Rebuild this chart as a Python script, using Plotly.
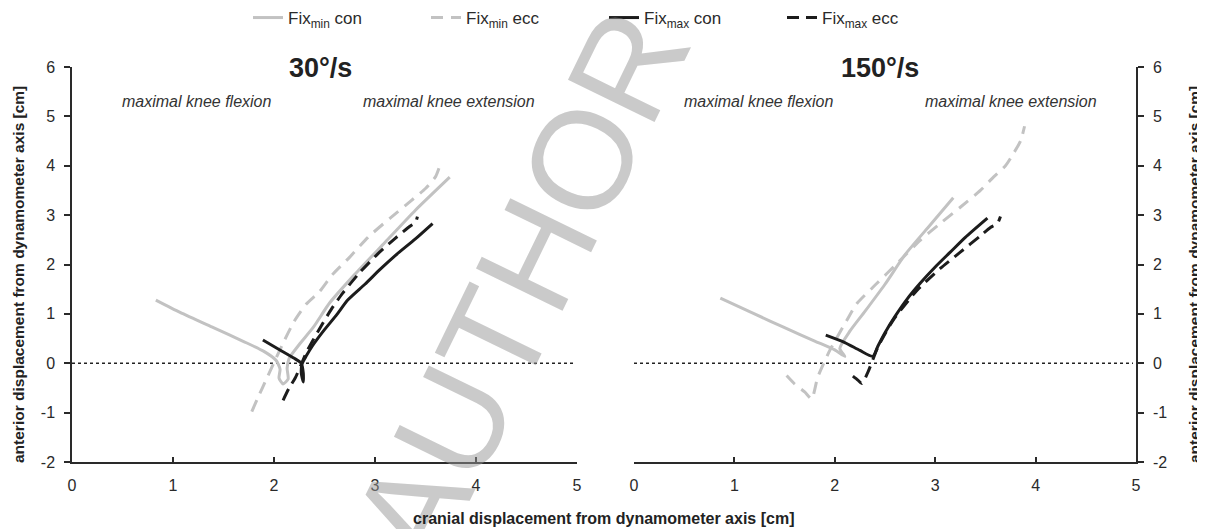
import plotly.graph_objects as go

# ---------------- data ----------------
series_names = ["Fix<sub>min</sub> con", "Fix<sub>min</sub> ecc", "Fix<sub>max</sub> con", "Fix<sub>max</sub> ecc"]
panel_titles = ["30°/s", "150°/s"]
x_ticks = [0, 1, 2, 3, 4, 5]
x_ticktext = ["0", "1", "2", "3", "4", "5"]
y_ticks = [-2, -1, 0, 1, 2, 3, 4, 5, 6]
y_ticktext = ["-2", "-1", "0", "1", "2", "3", "4", "5", "6"]

# 30°/s panel
s30_min_con_x = [0.83, 1.07, 1.4, 1.7, 1.9, 2.02, 2.06, 2.05, 2.09, 2.14, 2.13, 2.15, 2.25, 2.39, 2.55, 2.8, 3.1, 3.4, 3.74]
s30_min_con_y = [1.28, 1.03, 0.72, 0.44, 0.24, 0.06, -0.12, -0.3, -0.42, -0.32, -0.1, 0.1, 0.38, 0.73, 1.22, 1.8, 2.45, 3.1, 3.77]
s30_min_ecc_x = [1.78, 1.84, 1.93, 2.02, 2.1, 2.2, 2.32, 2.45, 2.58, 2.75, 2.93, 3.15, 3.35, 3.5, 3.6, 3.65]
s30_min_ecc_y = [-0.98, -0.7, -0.3, 0.1, 0.45, 0.85, 1.2, 1.45, 1.8, 2.15, 2.55, 2.94, 3.28, 3.54, 3.78, 4.05]
s30_max_con_x = [1.89, 2.05, 2.2, 2.27, 2.29, 2.29, 2.27, 2.28, 2.32, 2.38, 2.5, 2.62, 2.73, 2.9, 3.05, 3.2, 3.4, 3.57]
s30_max_con_y = [0.47, 0.28, 0.1, 0.0, -0.2, -0.38, -0.2, 0.0, 0.15, 0.35, 0.68, 0.98, 1.28, 1.6, 1.9, 2.18, 2.52, 2.83]
s30_max_ecc_x = [2.09, 2.15, 2.21, 2.27, 2.33, 2.46, 2.57, 2.68, 2.85, 3.03, 3.2, 3.35, 3.4, 3.42]
s30_max_ecc_y = [-0.75, -0.5, -0.3, -0.02, 0.26, 0.73, 1.1, 1.42, 1.84, 2.22, 2.53, 2.78, 2.85, 2.97]

# 150°/s panel
s150_min_con_x = [0.86, 1.2, 1.5, 1.8, 2.0, 2.1, 2.05, 2.15, 2.3, 2.5, 2.7, 2.95, 3.18]
s150_min_con_y = [1.32, 1.0, 0.72, 0.45, 0.27, 0.14, 0.3, 0.65, 1.05, 1.6, 2.2, 2.8, 3.35]
s150_min_ecc_x = [1.52, 1.6, 1.7, 1.77, 1.83, 1.95, 2.12, 2.22, 2.42, 2.6, 2.85, 3.05, 3.25, 3.45, 3.58, 3.7, 3.78, 3.85, 3.89]
s150_min_ecc_y = [-0.25, -0.42, -0.58, -0.72, -0.28, 0.26, 0.87, 1.21, 1.62, 1.98, 2.49, 2.83, 3.16, 3.5, 3.77, 4.0, 4.25, 4.5, 4.8]
s150_max_con_x = [1.91, 2.1, 2.25, 2.38, 2.43, 2.5, 2.6, 2.72, 2.85, 3.0, 3.15, 3.3, 3.52]
s150_max_con_y = [0.57, 0.42, 0.26, 0.14, 0.35, 0.62, 0.95, 1.3, 1.62, 1.95, 2.25, 2.55, 2.94]
s150_max_ecc_x = [2.18, 2.23, 2.27, 2.33, 2.43, 2.58, 2.82, 3.05, 3.25, 3.45, 3.55, 3.62, 3.65]
s150_max_ecc_y = [-0.26, -0.34, -0.41, -0.18, 0.33, 0.87, 1.48, 1.92, 2.25, 2.58, 2.75, 2.83, 2.97]

# ---------------- styling ----------------
FONT = "Liberation Sans, Arial, sans-serif"
GRAY = "#c2c2c2"
BLACK = "#1c1c1c"
styles = [
    dict(color=GRAY, width=3, dash="solid"),
    dict(color=GRAY, width=3, dash="12px,8px"),
    dict(color=BLACK, width=3, dash="solid"),
    dict(color=BLACK, width=3, dash="12px,7px"),
]

panels = [
    ("x", "y", [(s30_min_con_x, s30_min_con_y), (s30_min_ecc_x, s30_min_ecc_y),
                (s30_max_con_x, s30_max_con_y), (s30_max_ecc_x, s30_max_ecc_y)]),
    ("x2", "y2", [(s150_min_con_x, s150_min_con_y), (s150_min_ecc_x, s150_min_ecc_y),
                  (s150_max_con_x, s150_max_con_y), (s150_max_ecc_x, s150_max_ecc_y)]),
]

fig = go.Figure()
for pi, (xa, ya, data) in enumerate(panels):
    for si, (xs, ys) in enumerate(data):
        fig.add_trace(go.Scatter(
            x=xs, y=ys, mode="lines", xaxis=xa, yaxis=ya,
            name=series_names[si], legendgroup=str(si),
            showlegend=(pi == 0),
            line=dict(color=styles[si]["color"], width=styles[si]["width"],
                      dash=styles[si]["dash"], shape="spline", smoothing=0.6),
        ))

# zero reference lines (dotted)
for xr, yr in (("x", "y"), ("x2", "y2")):
    fig.add_shape(type="line", xref=xr, yref=yr, x0=0, x1=4.97, y0=0, y1=0,
                  line=dict(color="#222", width=1.4, dash="dot"), layer="below")

# page body has an 8px offset; figure sized so that plot area lands at
# screen x 72..1136, y 67..462
OFF = 8
W, H = 1205 - OFF, 529 - OFF
L, T = 72 - OFF, 67 - OFF
R = W - (1136 - OFF)
B = H - (462 - OFF)
PW = W - L - R
PH = H - T - B

def px(xs):
    return (xs - OFF - L) / PW

def py(ys):
    return (H - B - (ys - OFF)) / PH

axis_common = dict(
    showline=True, linecolor="#2a2a2a", linewidth=1.5,
    showgrid=False, zeroline=False,
    tickfont=dict(family=FONT, size=16, color="#2a2a2a"),
    tickwidth=1.5, tickcolor="#2a2a2a",
)

fig.update_layout(
    width=W, height=H,
    margin=dict(l=L, r=R, t=T, b=B, autoexpand=False),
    paper_bgcolor="white", plot_bgcolor="white",
    font=dict(family=FONT, color="#2a2a2a"),
    xaxis=dict(domain=[0, px(577)], range=[0, 5], tickvals=x_ticks, ticktext=x_ticktext, anchor="y",
               ticks="inside", ticklen=5, ticklabelstandoff=8, **axis_common),
    yaxis=dict(domain=[0, 1], range=[-2, 6], tickvals=y_ticks, ticktext=y_ticktext, anchor="x",
               ticks="outside", ticklen=6, ticklabelstandoff=6, **axis_common),
    xaxis2=dict(domain=[px(634), 1], range=[0, 5], tickvals=x_ticks, ticktext=x_ticktext, anchor="y2",
                ticks="inside", ticklen=5, ticklabelstandoff=8, **axis_common),
    yaxis2=dict(domain=[0, 1], range=[-2, 6], tickvals=y_ticks, ticktext=y_ticktext, anchor="x2",
                side="right", ticks="outside", ticklen=6, ticklabelstandoff=6, **axis_common),
    legend=dict(orientation="h", x=px(248), xanchor="left", y=py(18), yanchor="middle",
                font=dict(family=FONT, size=17, color="#2a2a2a"),
                entrywidth=133, entrywidthmode="pixels",
                itemwidth=30, bgcolor="rgba(0,0,0,0)"),
)

annotations = []
# watermark (drawn first so other texts sit on top)
annotations.append(dict(text="AUTHOR", xref="paper", yref="paper", x=px(520), y=py(286),
                        showarrow=False, textangle=-64,
                        font=dict(family=FONT, size=140, color="rgba(150,150,150,0.5)")))
# panel titles
for txt, xc in zip(panel_titles, [320, 880]):
    annotations.append(dict(text=f"<b>{txt}</b>", xref="paper", yref="paper", x=px(xc), y=py(68),
                            showarrow=False, xanchor="center", yanchor="middle",
                            font=dict(family=FONT, size=27, color="#222")))
# italic labels
for txt, xc in [("maximal knee flexion", 197), ("maximal knee extension", 449),
                ("maximal knee flexion", 759), ("maximal knee extension", 1011)]:
    annotations.append(dict(text=f"<i>{txt}</i>", xref="paper", yref="paper", x=px(xc), y=py(101),
                            showarrow=False, xanchor="center", yanchor="middle",
                            font=dict(family=FONT, size=16, color="#333")))
# axis titles
ytitle = "<b>anterior displacement from dynamometer axis [cm]</b>"
annotations.append(dict(text=ytitle, xref="paper", yref="paper", x=px(18), y=py(275),
                        showarrow=False, textangle=-90, xanchor="center", yanchor="middle",
                        font=dict(family=FONT, size=15.5, color="#222")))
annotations.append(dict(text=ytitle, xref="paper", yref="paper", x=px(1194), y=py(275),
                        showarrow=False, textangle=-90, xanchor="center", yanchor="middle",
                        font=dict(family=FONT, size=15.5, color="#222")))
annotations.append(dict(text="<b>cranial displacement from dynamometer axis [cm]</b>",
                        xref="paper", yref="paper", x=px(603), y=py(519),
                        showarrow=False, xanchor="center", yanchor="middle",
                        font=dict(family=FONT, size=16, color="#222")))
fig.update_layout(annotations=annotations)

fig.write_html("out.html")
